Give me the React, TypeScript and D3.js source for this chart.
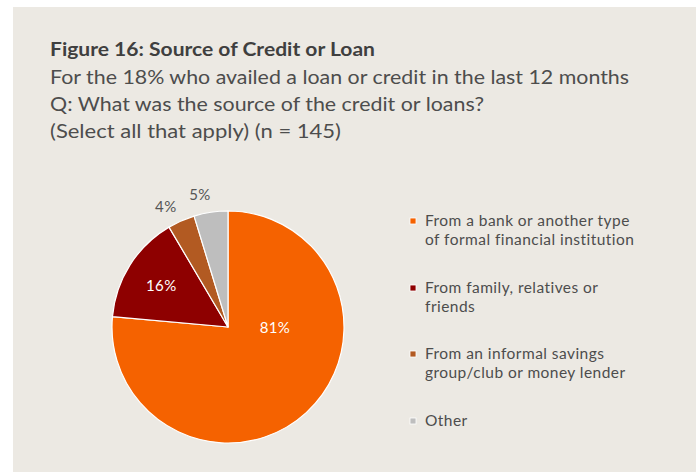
import React from "react";
import * as d3 from "d3";

const categories = [
  "From a bank or another type of formal financial institution",
  "From family, relatives or friends",
  "From an informal savings group/club or money lender",
  "Other",
];
const legendLines = [
  ["From a bank or another type", "of formal financial institution"],
  ["From family, relatives or", "friends"],
  ["From an informal savings", "group/club or money lender"],
  ["Other"],
];
const values = [81, 16, 4, 5];
const colors = ["#F56200", "#8E0000", "#B25A22", "#BEBEBE"];
const titleText = "Figure 16: Source of Credit or Loan";
const subtitleLines = [
  "For the 18% who availed a loan or credit in the last 12 months",
  "Q: What was the source of the credit or loans?",
  "(Select all that apply) (n = 145)",
];

const W = 696;
const H = 472;
const FONT = "Lato, 'Open Sans', sans-serif";
const TEXT = "#4d4d4d";

export default function App() {
  const cx = 228;
  const cy = 327;
  const R = 116;
  const pie = d3.pie<number>().sort(null).value((d) => d);
  const arcs = pie(values);
  const arc = d3.arc<d3.PieArcDatum<number>>().innerRadius(0).outerRadius(R);
  const inLabel = d3.arc<any>().innerRadius(R * 0.68).outerRadius(R * 0.68);
  const outLabel = d3.arc<any>().innerRadius(R + 20).outerRadius(R + 20);
  const bigLabel = d3.arc<any>().innerRadius(R * 0.405).outerRadius(R * 0.405);

  const legendY = [221, 288, 354, 421];

  return (
    <svg width={W} height={H} style={{ position: "absolute", left: 0, top: 0, display: "block" }}>
      <rect x={0} y={0} width={W} height={H} fill="#ffffff" />
      <rect x={13} y={7} width={W - 13} height={H - 7} fill="#ECE9E3" />
      <text x={50} y={56} fontFamily={FONT} fontWeight={700} fontSize={19} fill="#3f3f3f"
        textLength={325} lengthAdjust="spacingAndGlyphs">
        {titleText}
      </text>
      {subtitleLines.map((s, i) => (
        <text key={i} x={50} y={84 + i * 27} fontFamily={FONT} fontSize={19.5} fill={TEXT}
          textLength={[579, 434, 291][i]} lengthAdjust="spacingAndGlyphs">
          {s}
        </text>
      ))}
      <g transform={`translate(${cx},${cy})`}>
        {arcs.map((a, i) => (
          <path key={i} d={arc(a) as string} fill={colors[i]} stroke="#ffffff" strokeWidth={1.2} strokeLinejoin="round" />
        ))}
        {arcs.map((a, i) => {
          let pos: [number, number];
          let fill = "#ffffff";
          if (i === 0) {
            pos = bigLabel.centroid({ startAngle: Math.PI / 2, endAngle: Math.PI / 2 }) as [number, number];
          } else if (i === 1) {
            pos = inLabel.centroid(a) as [number, number];
          } else {
            const mid = (a.startAngle + a.endAngle) / 2 - 0.06;
            pos = outLabel.centroid({ startAngle: mid, endAngle: mid }) as [number, number];
            fill = "#555555";
          }
          return (
            <text key={i} x={pos[0]} y={pos[1]} textAnchor="middle" dominantBaseline="central"
              fontFamily={FONT} fontSize={15} letterSpacing={0.4} fill={fill}>
              {`${values[i]}%`}
            </text>
          );
        })}
      </g>
      <g>
        {categories.map((c, i) => (
          <g key={c}>
            <rect x={410} y={legendY[i] - 3} width={6} height={6} fill={colors[i]} stroke="#ffffff" strokeWidth={0.8} />
            {legendLines[i].map((ln, j) => (
              <text key={j} x={425} y={legendY[i] + 5 + j * 18.5} fontFamily={FONT} fontSize={15.5}
                letterSpacing={0.45} fill={TEXT}>
                {ln}
              </text>
            ))}
          </g>
        ))}
      </g>
    </svg>
  );
}
